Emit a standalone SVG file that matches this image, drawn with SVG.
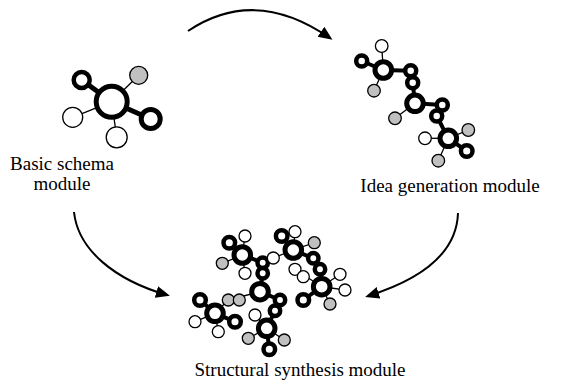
<svg xmlns="http://www.w3.org/2000/svg" width="568" height="383" viewBox="0 0 568 383">
<style>
.bg{fill:#fff}
.big{fill:#fff;stroke:#000;stroke-width:5}
.ring{fill:#fff;stroke:#000;stroke-width:4.5}
.w{fill:#fff;stroke:#000;stroke-width:1.3}
.g{fill:#c0c0c0;stroke:#000;stroke-width:1.3}
.tl{stroke:#000;stroke-width:1.3}
.kl{stroke:#000;stroke-width:4}
.lbl{font-family:"Liberation Serif","Times New Roman",serif;font-size:19px;fill:#000;text-anchor:middle}
.arr{fill:none;stroke:#000;stroke-width:2}
</style>
<defs>
<marker id="ah" markerUnits="userSpaceOnUse" markerWidth="16" markerHeight="14" refX="11" refY="6" orient="auto">
<path d="M0,0 L14,6 L0,12 Z" fill="#000"/>
</marker>
</defs>
<rect class="bg" x="0" y="0" width="568" height="383"/>

<g id="connectors">
<path class="arr" d="M188,31 Q255,-14 330,38" marker-end="url(#ah)"/>
<path class="arr" d="M74,212 C78,250 115,280 167,295" marker-end="url(#ah)"/>
<path class="arr" d="M458,213 C457,245 435,275 368,296" marker-end="url(#ah)"/>
</g>

<g id="basic-schema">
<line class="kl" x1="111.7" y1="101.7" x2="81.7" y2="80" style="stroke-width:5"/>
<line class="kl" x1="111.7" y1="101.7" x2="150.7" y2="119" style="stroke-width:5"/>
<line class="tl" x1="111.7" y1="101.7" x2="138.7" y2="75.3"/>
<line class="tl" x1="111.7" y1="101.7" x2="72.7" y2="117.3"/>
<line class="tl" x1="111.7" y1="101.7" x2="116.7" y2="137.3"/>
<circle class="ring" cx="81.7" cy="80" r="8" style="stroke-width:4.5"/>
<circle class="g" cx="138.7" cy="75.3" r="9"/>
<circle class="ring" cx="150.7" cy="119" r="9.5" style="stroke-width:5"/>
<circle class="w" cx="72.7" cy="117.3" r="10"/>
<circle class="w" cx="116.7" cy="137.3" r="10.5"/>
<circle class="big" cx="111.7" cy="101.7" r="15.5" style="stroke-width:5"/>
<text class="lbl" x="62" y="170">Basic schema</text>
<text class="lbl" x="62" y="190">module</text>
</g>

<g id="idea-generation">
<line class="kl" x1="383.3" y1="70" x2="361.7" y2="61"/>
<line class="tl" x1="383.3" y1="70" x2="381.7" y2="46"/>
<line class="tl" x1="383.3" y1="70" x2="374" y2="90.7"/>
<line class="kl" x1="383.3" y1="70" x2="410.7" y2="70.7"/>
<line class="kl" x1="410.7" y1="70.7" x2="412.7" y2="82.7"/>
<line class="kl" x1="412.7" y1="82.7" x2="415" y2="103.3"/>
<line class="tl" x1="415" y1="103.3" x2="395" y2="118.3"/>
<line class="kl" x1="415" y1="103.3" x2="442.3" y2="105"/>
<line class="kl" x1="442.3" y1="105" x2="436.7" y2="116"/>
<line class="kl" x1="436.7" y1="116" x2="448.3" y2="138.3"/>
<line class="tl" x1="448.3" y1="138.3" x2="425" y2="138.3"/>
<line class="tl" x1="448.3" y1="138.3" x2="468.3" y2="130"/>
<line class="kl" x1="448.3" y1="138.3" x2="466.7" y2="151"/>
<line class="tl" x1="448.3" y1="138.3" x2="438.3" y2="160.7"/>
<circle class="ring" cx="361.7" cy="61" r="5.5"/>
<circle class="w" cx="381.7" cy="46" r="6.3"/>
<circle class="g" cx="374" cy="90.7" r="6.3"/>
<circle class="ring" cx="410.7" cy="70.7" r="5.5"/>
<circle class="ring" cx="412.7" cy="82.7" r="5.5"/>
<circle class="g" cx="395" cy="118.3" r="6.3"/>
<circle class="ring" cx="442.3" cy="105" r="5.5"/>
<circle class="ring" cx="436.7" cy="116" r="5.5"/>
<circle class="w" cx="425" cy="138.3" r="6.3"/>
<circle class="g" cx="468.3" cy="130" r="6.3"/>
<circle class="ring" cx="466.7" cy="151" r="5.8"/>
<circle class="g" cx="438.3" cy="160.7" r="6.3"/>
<circle class="big" cx="383.3" cy="70" r="8.3"/>
<circle class="big" cx="415" cy="103.3" r="8.3"/>
<circle class="big" cx="448.3" cy="138.3" r="8.3"/>
<text class="lbl" x="450" y="192">Idea generation module</text>
</g>

<g id="structural-synthesis">
<line class="kl" x1="242.3" y1="255" x2="229.3" y2="242.7"/>
<line class="tl" x1="242.3" y1="255" x2="245" y2="236"/>
<line class="tl" x1="242.3" y1="255" x2="222.3" y2="263.3"/>
<line class="tl" x1="242.3" y1="255" x2="245" y2="273.3"/>
<line class="kl" x1="242.3" y1="255" x2="262.7" y2="262.7"/>
<line class="tl" x1="262.7" y1="262.7" x2="273.3" y2="258"/>
<line class="kl" x1="262.7" y1="262.7" x2="262.7" y2="273.3"/>
<line class="kl" x1="262.7" y1="273.3" x2="260" y2="291.7"/>
<line class="tl" x1="260" y1="291.7" x2="228.3" y2="300"/>
<line class="kl" x1="260" y1="291.7" x2="280" y2="300"/>
<line class="kl" x1="280" y1="300" x2="275" y2="310.7"/>
<line class="kl" x1="275" y1="310.7" x2="266.7" y2="328.3"/>
<line class="tl" x1="273.3" y1="258" x2="293.3" y2="250"/>
<line class="kl" x1="293.3" y1="250" x2="281.7" y2="236"/>
<line class="tl" x1="293.3" y1="250" x2="295" y2="231.7"/>
<line class="tl" x1="293.3" y1="250" x2="314.3" y2="242.7"/>
<line class="kl" x1="293.3" y1="250" x2="313.3" y2="258.3"/>
<line class="kl" x1="313.3" y1="258.3" x2="320" y2="269.3"/>
<line class="kl" x1="320" y1="269.3" x2="321.7" y2="286.7"/>
<line class="tl" x1="295" y1="269.3" x2="321.7" y2="286.7"/>
<line class="tl" x1="321.7" y1="286.7" x2="340" y2="274.3"/>
<line class="tl" x1="321.7" y1="286.7" x2="345" y2="290"/>
<line class="tl" x1="321.7" y1="286.7" x2="330" y2="304"/>
<line class="kl" x1="321.7" y1="286.7" x2="303.3" y2="300"/>
<line class="kl" x1="215" y1="313.3" x2="200" y2="300"/>
<line class="tl" x1="215" y1="313.3" x2="228.3" y2="300"/>
<line class="tl" x1="215" y1="313.3" x2="195" y2="321.7"/>
<line class="kl" x1="215" y1="313.3" x2="235" y2="321.7"/>
<line class="tl" x1="215" y1="313.3" x2="218.3" y2="331.7"/>
<line class="tl" x1="266.7" y1="328.3" x2="255" y2="315"/>
<line class="tl" x1="266.7" y1="328.3" x2="248.3" y2="338.3"/>
<line class="tl" x1="266.7" y1="328.3" x2="284.3" y2="340"/>
<line class="kl" x1="266.7" y1="328.3" x2="269.3" y2="349.3"/>
<circle class="ring" cx="229.3" cy="242.7" r="5.8"/>
<circle class="w" cx="245" cy="236" r="6"/>
<circle class="g" cx="222.3" cy="263.3" r="6"/>
<circle class="w" cx="245" cy="273.3" r="6"/>
<circle class="ring" cx="262.7" cy="262.7" r="5.2"/>
<circle class="w" cx="273.3" cy="258" r="6"/>
<circle class="ring" cx="262.7" cy="273.3" r="5.2"/>
<circle class="g" cx="228.3" cy="300" r="6"/>
<circle class="g" cx="239.3" cy="300" r="6"/>
<circle class="ring" cx="280" cy="300" r="5.2"/>
<circle class="ring" cx="275" cy="310.7" r="5.2"/>
<circle class="ring" cx="281.7" cy="236" r="5.8"/>
<circle class="w" cx="295" cy="231.7" r="6"/>
<circle class="g" cx="314.3" cy="242.7" r="6"/>
<circle class="ring" cx="313.3" cy="258.3" r="5.2"/>
<circle class="ring" cx="320" cy="269.3" r="5.2"/>
<circle class="w" cx="295" cy="269.3" r="6"/>
<circle class="w" cx="303.3" cy="276.7" r="6"/>
<circle class="w" cx="340" cy="274.3" r="6"/>
<circle class="w" cx="345" cy="290" r="6"/>
<circle class="g" cx="330" cy="304" r="6"/>
<circle class="ring" cx="303.3" cy="300" r="5.8"/>
<circle class="ring" cx="200" cy="300" r="5.8"/>
<circle class="w" cx="195" cy="321.7" r="6"/>
<circle class="ring" cx="235" cy="321.7" r="5.8"/>
<circle class="w" cx="218.3" cy="331.7" r="6"/>
<circle class="w" cx="255" cy="315" r="6"/>
<circle class="g" cx="248.3" cy="338.3" r="6"/>
<circle class="g" cx="284.3" cy="340" r="6"/>
<circle class="ring" cx="269.3" cy="349.3" r="5.8"/>
<circle class="big" cx="242.3" cy="255" r="8.3"/>
<circle class="big" cx="260" cy="291.7" r="8.3"/>
<circle class="big" cx="293.3" cy="250" r="8.3"/>
<circle class="big" cx="321.7" cy="286.7" r="8.3"/>
<circle class="big" cx="215" cy="313.3" r="8.3"/>
<circle class="big" cx="266.7" cy="328.3" r="8.3"/>
<text class="lbl" x="300" y="376">Structural synthesis module</text>
</g>
</svg>
